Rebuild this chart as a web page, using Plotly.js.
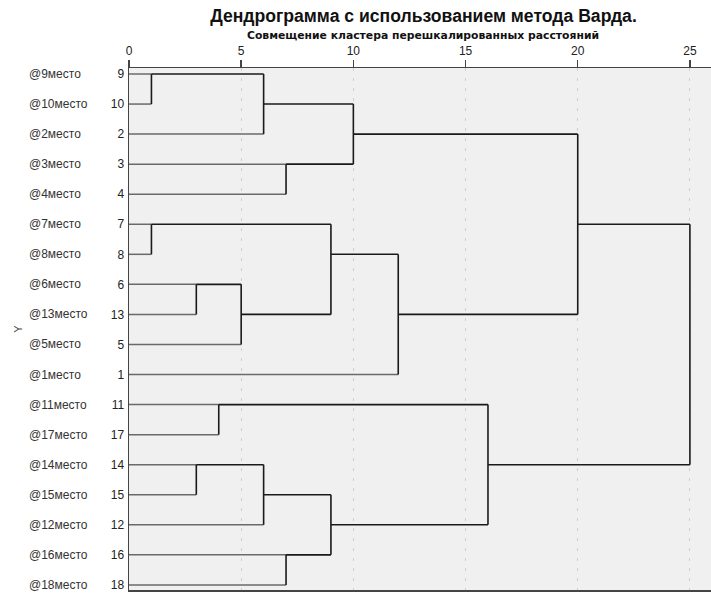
<!DOCTYPE html>
<html>
<head>
<meta charset="utf-8">
<script src="https://cdn.plot.ly/plotly-3.0.1.min.js"></script>
<style>
  html, body { margin: 0; padding: 0; background: #ffffff; }
  #chart { width: 711px; height: 595px; }
</style>
</head>
<body>
<div id="chart"></div>
<script>
// Leaf order (top to bottom) and their case labels
const leafIds = [9, 10, 2, 3, 4, 7, 8, 6, 13, 5, 1, 11, 17, 14, 15, 12, 16, 18];
const leafNames = ['@9место', '@10место', '@2место', '@3место', '@4место', '@7место',
  '@8место', '@6место', '@13место', '@5место', '@1место', '@11место', '@17место',
  '@14место', '@15место', '@12место', '@16место', '@18место'];

// Agglomeration schedule: stage k joins stageA[k] and stageB[k]
// (numbers are cases, 'S<n>' refers to the cluster formed at stage n)
const stageA = [9, 7, 6, 14, 11, 'S3', 'S1', 'S4', 3, 16, 'S2', 'S8', 'S7', 'S11', 'S5', 'S13', 'S16'];
const stageB = [10, 8, 13, 15, 17, 5, 2, 12, 4, 18, 'S6', 'S10', 'S9', 1, 'S12', 'S14', 'S15'];
// Rescaled combining distances (0–25)
const stageDist = [1, 1, 3, 3, 4, 5, 6, 6, 7, 7, 9, 9, 10, 12, 16, 20, 25];

const xTicks = [0, 5, 10, 15, 20, 25];

// Resolve node positions: leaves sit on their row, clusters at the (floored) middle row
const nodes = {};
leafIds.forEach((id, i) => { nodes[id] = { row: i, h: 0, leaf: true }; });

const leafX = [], leafY = [];
const clusX = [], clusY = [];

function childSegment(node, d) {
  const xs = node.leaf ? leafX : clusX;
  const ys = node.leaf ? leafY : clusY;
  xs.push(node.h, d, null);
  ys.push(node.row, node.row, null);
}

stageDist.forEach((d, k) => {
  const a = nodes[stageA[k]];
  const b = nodes[stageB[k]];
  childSegment(a, d);
  childSegment(b, d);
  clusX.push(d, d, null);
  clusY.push(a.row, b.row, null);
  nodes['S' + (k + 1)] = { row: Math.floor((a.row + b.row) / 2), h: d, leaf: false };
});

const rows = leafIds.map((_, i) => i);
const FONT = 'Liberation Sans, Arial, sans-serif';

const traces = [
  {
    x: leafX, y: leafY, type: 'scatter', mode: 'lines',
    line: { color: '#6a6a6a', width: 1.5 }, hoverinfo: 'skip', showlegend: false
  },
  {
    x: clusX, y: clusY, type: 'scatter', mode: 'lines',
    line: { color: '#1a1a1a', width: 1.6 }, hoverinfo: 'skip', showlegend: false
  }
];

const annotations = leafNames.map((name, i) => ({
  text: name, xref: 'paper', yref: 'y', x: -0.1753, y: rows[i],
  xanchor: 'left', yanchor: 'middle', showarrow: false,
  font: { family: FONT, size: 12, color: '#333333' }
}));

annotations.push({
  text: '<b>Совмещение кластера перешкалированных расстояний</b>',
  xref: 'paper', yref: 'paper', x: 0.506, y: 1.063,
  xanchor: 'center', yanchor: 'middle', showarrow: false,
  font: { family: 'DejaVu Sans, sans-serif', size: 10.8, color: '#111111' }
});

const layout = {
  width: 711, height: 595,
  margin: { l: 129, r: 0, t: 68, b: 5, pad: 0 },
  paper_bgcolor: '#ffffff',
  plot_bgcolor: '#f0f0f0',
  title: {
    text: '<b>Дендрограмма с использованием метода Варда.</b>',
    xref: 'paper', x: 0.506, xanchor: 'center',
    yref: 'container', y: 0.973, yanchor: 'middle',
    font: { family: FONT, size: 17.6, color: '#111111' }
  },
  xaxis: {
    side: 'top', range: [0, 25.94], tickvals: xTicks, ticktext: xTicks.map(String),
    ticks: 'outside', ticklen: 7, tickwidth: 1.5, tickcolor: '#444444',
    showline: true, linecolor: '#444444', linewidth: 1.5, mirror: true,
    showgrid: true, gridcolor: '#cfcfcf', gridwidth: 1, griddash: '3px,7px',
    zeroline: false, fixedrange: true,
    tickfont: { family: FONT, size: 12, color: '#222222' }
  },
  yaxis: {
    range: [17.17, -0.2], tickvals: rows, ticktext: leafIds.map(String),
    ticks: 'outside', ticklen: 1, tickcolor: 'rgba(0,0,0,0)',
    showline: true, linecolor: '#444444', linewidth: 1.5,
    showgrid: false, zeroline: false, fixedrange: true,
    tickfont: { family: FONT, size: 12, color: '#222222' },
    title: { text: 'Y', standoff: 86, font: { family: FONT, size: 11, color: '#444444' } }
  },
  annotations: annotations
};

Plotly.newPlot('chart', traces, layout, { displayModeBar: false, staticPlot: true });
</script>
</body>
</html>
